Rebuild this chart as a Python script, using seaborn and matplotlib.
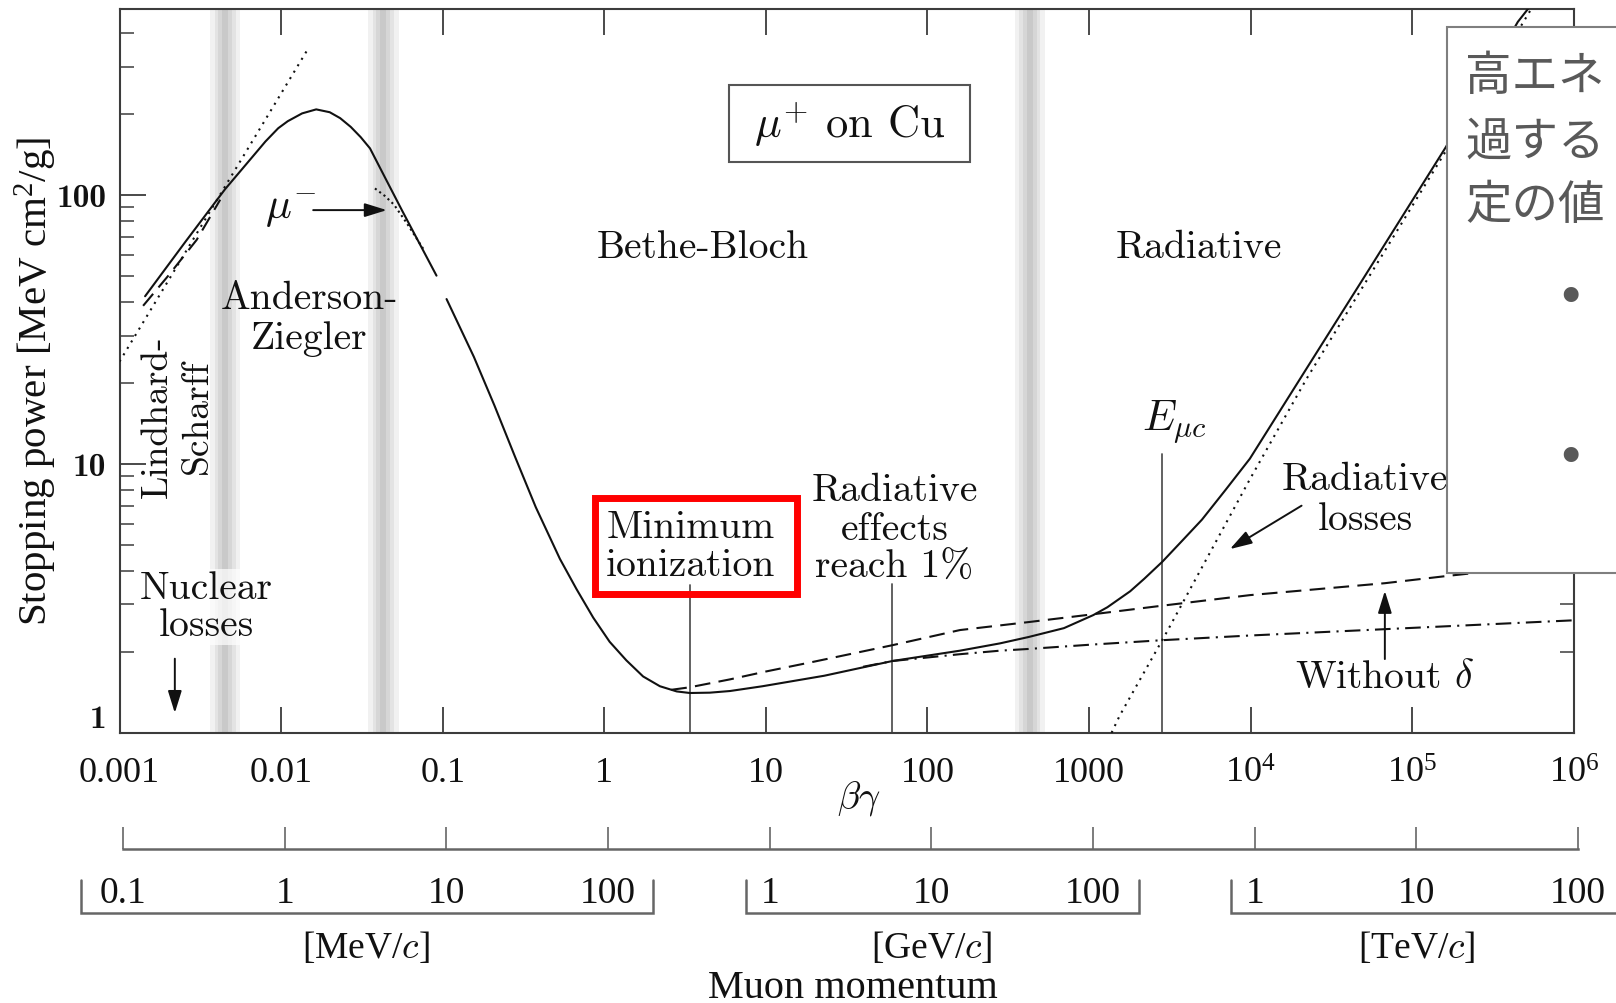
import numpy as np
import pandas as pd
import matplotlib
matplotlib.use("Agg")
import matplotlib.pyplot as plt
import matplotlib.ticker as mticker
from matplotlib.patches import Rectangle
import seaborn as sns

# ---------------- data ----------------
# total stopping power, Anderson-Ziegler branch
az_bg = [0.00144, 0.00256, 0.0045, 0.00716, 0.008, 0.0096, 0.011, 0.0135, 0.0165, 0.02, 0.0232,
         0.027, 0.0311, 0.0355, 0.045, 0.0558, 0.0916]
az_S = [42, 67, 105, 146, 158, 177, 188, 201, 208, 203, 193,
        179, 164, 149, 113, 88, 50.1]
# total stopping power, Bethe-Bloch + radiative branch
bb_bg = [0.1057, 0.156, 0.209, 0.281, 0.377, 0.532, 0.674, 0.855, 1.08, 1.37, 1.74, 2.21, 2.81, 3.39,
         4.5, 6.0, 9.55, 23, 61, 159, 281, 422, 700, 1064, 1300, 1800, 2200, 2850, 3800, 5000, 7000,
         9900, 22200, 50000, 161000, 451000, 540000]
bb_S = [41.0, 25.0, 16.5, 10.6, 6.9, 4.43, 3.42, 2.68, 2.18, 1.86, 1.62, 1.49, 1.425, 1.406,
        1.41, 1.43, 1.49, 1.63, 1.85, 2.02, 2.15, 2.27, 2.45, 2.74, 2.93, 3.36, 3.74, 4.33, 5.2, 6.2, 8.0,
        10.45, 22.6, 49, 150, 440, 505]
# without density effect (dashed)
nod_bg = [2.6, 3.37, 6, 10, 20, 61.4, 159, 422, 1064, 2850, 9900, 67900, 171000, 1e6]
nod_S = [1.445, 1.476, 1.58, 1.69, 1.84, 2.12, 2.41, 2.58, 2.76, 2.97, 3.25, 3.6, 3.84, 4.3]
# ionization only (dash-dot)
ion_bg = [40, 61.4, 159, 281, 422, 1064, 2850, 9900, 1e6]
ion_S = [1.76, 1.85, 1.96, 2.02, 2.05, 2.13, 2.21, 2.30, 2.62]
# radiative losses (dotted)
rad_bg = [1380, 1549, 3020, 9900, 22200, 161000, 600000]
rad_S = [1.0, 1.158, 2.36, 8.76, 20.7, 145, 540]
# Lindhard extrapolation (dotted) and Lindhard-Scharff (dashed)
lin_bg = [0.001, 0.0145]
lin_S = [24, 345]
ls_bg = [0.0014, 0.002, 0.003, 0.0042]
ls_S = [38.7, 50, 68, 96]
# mu- curve (dotted)
mum_bg = [0.0381, 0.044, 0.05, 0.06, 0.0759]
mum_S = [105.7, 99, 92, 78.5, 63]
# vertical marker lines
marker_bg = [3.39, 60.5, 2850]
marker_top = [3.53, 3.56, 10.9]
# grey transition bands
band_bg = [0.0045, 0.0429, 431]
# axes ticks
bg_ticks = [1e-3, 1e-2, 1e-1, 1, 10, 100, 1000, 1e4, 1e5, 1e6]
bg_tick_labels = ["0.001", "0.01", "0.1", "1", "10", "100", "1000",
                  r"$\mathregular{10^4}$", r"$\mathregular{10^5}$", r"$\mathregular{10^6}$"]
S_ticks = [1, 10, 100]
S_tick_labels = ["1", "10", "100"]
mom_ticks = [0.1, 1, 10, 100, 1e3, 1e4, 1e5, 1e6, 1e7, 1e8]          # MeV/c
mom_labels = ["0.1", "1", "10", "100", "1", "10", "100", "1", "10", "100"]
unit_names = [r"[MeV/$c$]", r"[GeV/$c$]", r"[TeV/$c$]"]
unit_lo = [0.1, 1e3, 1e6]
unit_hi = [100, 1e5, 1e8]
jp_lines = ["高エネ", "過する", "定の値"]

# ---------------- style ----------------
sns.set_theme(style="white")
plt.rcParams["font.family"] = ["cmr10", "DejaVu Sans"]
plt.rcParams["mathtext.fontset"] = "cm"
plt.rcParams["axes.formatter.use_mathtext"] = True
plt.rcParams["axes.unicode_minus"] = False

W, H = 1616, 1004
fig = plt.figure(figsize=(W / 100, H / 100), dpi=100)
fig.patch.set_facecolor("white")


def fx(px):
    return px / W


def fy(py):
    return 1 - py / H


INK = "#111111"
EDGE = "#3c3c3c"

ax = fig.add_axes([fx(119.5), fy(733.8), fx(1573.7 - 119.5), (733.8 - 10.3) / H])
ax.set_xscale("log")
ax.set_yscale("log")
ax.set_xlim(1e-3, 1e6)
ax.set_ylim(1, 490)
ax.set_facecolor("white")

# grey bands
for c in band_bg:
    for half, col in [(0.095, "#f1f1f1"), (0.065, "#e3e3e3"), (0.042, "#d6d6d6"), (0.018, "#c9c9c9")]:
        ax.axvspan(c / 10 ** half, c * 10 ** half, color=col, lw=0, zorder=0.5)

lw = 1.5
curves = [
    (az_bg, az_S, "-"),
    (bb_bg, bb_S, "-"),
    (nod_bg, nod_S, (0, (7.5, 4))),
    (ion_bg, ion_S, (0, (7.5, 3, 1, 3))),
    (rad_bg, rad_S, (0, (1, 2.6))),
    (lin_bg, lin_S, (0, (1, 2.6))),
    (ls_bg, ls_S, (0, (7.5, 4))),
    (mum_bg, mum_S, (0, (1, 1.6))),
]
for xs, ys, style in curves:
    df = pd.DataFrame({"bg": xs, "S": ys})
    sns.lineplot(data=df, x="bg", y="S", ax=ax, color=INK, lw=lw, linestyle=style,
                 estimator=None, legend=False, zorder=3)

# vertical marker lines
for xb, top in zip(marker_bg, marker_top):
    ax.plot([xb, xb], [1, top], color="#555555", lw=1.3, zorder=2.5)

# ticks
ax.xaxis.set_major_locator(mticker.FixedLocator(bg_ticks))
ax.xaxis.set_minor_locator(mticker.NullLocator())
ax.set_xticklabels(bg_tick_labels, family="Liberation Serif", fontsize=26, color=INK)
ax.yaxis.set_major_locator(mticker.FixedLocator(S_ticks))
ax.yaxis.set_minor_locator(mticker.LogLocator(base=10, subs=range(2, 10)))
ax.yaxis.set_minor_formatter(mticker.NullFormatter())
ax.set_yticklabels(S_tick_labels, family="cmb10", fontsize=24, color=INK)
ax.get_yticklabels()[0].set_va("bottom")
ax.tick_params(which="both", direction="in", top=True, right=True, bottom=True, left=True,
               color=EDGE)
ax.tick_params(which="major", length=19, width=1.3)
ax.tick_params(which="minor", length=10, width=1.1)
ax.tick_params(axis="x", pad=17)
ax.tick_params(axis="y", pad=9.5)
for s in ax.spines.values():
    s.set_color(EDGE)
    s.set_linewidth(1.5)

ax.set_ylabel(r"Stopping power [MeV cm$\mathregular{^2}$/g]", family="Liberation Serif",
              fontsize=29.5, color=INK)
ax.yaxis.label.set(va="center", ha="center")
ax.yaxis.set_label_coords(-0.0574, 0.4876)
ax.set_xlabel(r"$\beta\gamma$", fontsize=27, color=INK)
ax.xaxis.label.set(va="center")
ax.xaxis.set_label_coords(0.5082, -0.0897)

# annotations (data coordinates)
T = dict(fontsize=28.5, color=INK, ha="center", va="center", zorder=6)
ax.text(4.08, 63.8, "Bethe-Bloch", **T)
ax.text(4760, 63.8, "Radiative", **T)
ax.text(0.0149, 34.8, "Anderson-\nZiegler", linespacing=1.17, **T)
ax.text(0.00227, 15.1, "Lindhard-\nScharff", rotation=90, linespacing=1.25,
        **{**T, "fontsize": 27})
ax.text(0.00343, 2.94, "Nuclear\nlosses", linespacing=1.05,
        bbox=dict(fc="white", ec="none", alpha=0.7, pad=1), **T)
ax.text(0.01146, 87.8, r"$\mu^{-}$", **{**T, "fontsize": 31})
ax.text(3.41, 4.95, "Minimum\nionization", linespacing=1.1, **T)
ax.text(62.6, 5.74, "Radiative\neffects\nreach 1%", linespacing=1.1, **T)
ax.text(3404, 14.4, r"$E_{\mu c}$", **{**T, "fontsize": 31})
ax.text(51300, 7.40, "Radiative\nlosses", linespacing=1.15, **T)
ax.text(67800, 1.61, r"Without $\delta$", **T)
ax.text(32.8, 184.6, r"$\mu^{+}$ on Cu", **{**T, "fontsize": 32})

AP = dict(arrowstyle="-|>,head_length=0.9,head_width=0.28", color=INK, lw=1.4,
          shrinkA=0, shrinkB=0, mutation_scale=15)
ax.annotate("", xy=(0.0022, 1.185), xytext=(0.0022, 1.886), arrowprops=AP, zorder=6)
ax.annotate("", xy=(0.0451, 87.8), xytext=(0.0158, 87.8), arrowprops=AP, zorder=6)
ax.annotate("", xy=(7450, 4.82), xytext=(20690, 6.99), arrowprops=AP, zorder=6)
ax.annotate("", xy=(67800, 3.37), xytext=(67800, 1.88), arrowprops=AP, zorder=6)

# boxes (figure layout)
fig.add_artist(Rectangle((fx(728.6), fy(162.8)), fx(969.8 - 728.6), (162.8 - 85.5) / H,
                         transform=fig.transFigure, fill=False, ec="#555555", lw=1.5, zorder=5))
fig.add_artist(Rectangle((fx(595.2), fy(594.8)), fx(796.5 - 595.2), (594.8 - 498.5) / H,
                         transform=fig.transFigure, fill=False, ec="#ff0000", lw=5, zorder=5))

# ---------------- momentum ruler ----------------
axr = fig.add_axes([fx(123), fy(850), fx(1455), 30 / H])
axr.set_xscale("log")
axr.set_xlim(mom_ticks[0], mom_ticks[-1])
axr.set_ylim(0, 1)
axr.patch.set_alpha(0)
for s in ["top", "left", "right"]:
    axr.spines[s].set_visible(False)
axr.spines["bottom"].set(color="#666666", lw=1.8)
axr.xaxis.set_major_locator(mticker.FixedLocator(mom_ticks))
axr.xaxis.set_minor_locator(mticker.NullLocator())
axr.tick_params(axis="x", which="major", direction="in", bottom=True, top=False, length=16,
                width=1.2, color="#666666", labelbottom=False)
axr.set_yticks([])

axm = fig.add_axes([fx(123), fy(914), fx(1455), 33 / H])
axm.set_xscale("log")
axm.set_xlim(mom_ticks[0], mom_ticks[-1])
axm.set_ylim(0, 1)
axm.axis("off")
for p, lab in zip(mom_ticks, mom_labels):
    axm.text(p, 0.62, lab, ha="center", va="center", family="Liberation Serif", fontsize=27, color=INK)
pads = [(0.262, 0.28), (0.147, 0.287), (0.147, 0.6)]
for name, lo, hi, (pl, pr) in zip(unit_names, unit_lo, unit_hi, pads):
    x0, x1 = lo / 10 ** pl, hi * 10 ** pr
    axm.plot([x0, x0, x1, x1], [1, 0, 0, 1], color="#666666", lw=1.8, clip_on=False,
             solid_joinstyle="miter")
    axm.text(np.sqrt(lo * hi), -1.03, name, ha="center", va="center", family="Liberation Serif",
             fontsize=27, color=INK)
fig.text(fx(853.3), fy(988.5), "Muon momentum", ha="center", va="center",
         family="Liberation Serif", fontsize=29, color=INK)

# ---------------- overlaid slide text box ----------------
fig.add_artist(Rectangle((fx(1446.7), fy(574)), 0.2, (574 - 27.8) / H, transform=fig.transFigure,
                         fc="white", ec="#7f7f7f", lw=1.5, zorder=10))
for line, yy in zip(jp_lines, [77, 142, 206]):
    fig.text(fx(1465.5), fy(yy), line, family=["Noto Sans CJK JP", "DejaVu Sans"], fontsize=33.5,
             color="#595959", ha="left", va="center", zorder=11)
for yy in [300, 459.6]:
    fig.text(fx(1570.6), fy(yy), "•", family=["DejaVu Sans"], fontsize=37, color="#595959",
             ha="center", va="center", zorder=11)

fig.savefig("out.png", dpi=100, facecolor="white")
